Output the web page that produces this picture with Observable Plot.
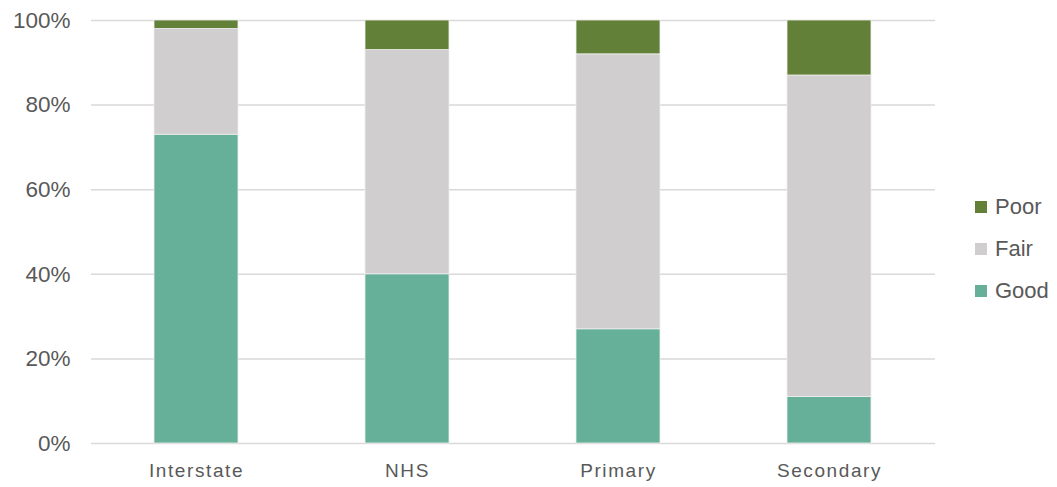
<!DOCTYPE html>
<html><head><meta charset="utf-8">
<script src="https://cdn.jsdelivr.net/npm/d3@7"></script>
<script src="https://cdn.jsdelivr.net/npm/@observablehq/plot@0.6"></script>
<style>
body{margin:0;background:#fff;}
#wrap{position:relative;width:1057px;height:487px;}
.leg{position:absolute;left:975px;font:22px "Liberation Sans",Arial,sans-serif;color:#595959;display:flex;align-items:center;height:24px;}
.leg span{display:inline-block;width:12px;height:12px;margin-right:8px;}
#wrap svg g[aria-label="x-axis tick label"] text{letter-spacing:1.6px;}
</style></head>
<body><div id="wrap"></div>
<script>
const categories = ["Interstate","NHS","Primary","Secondary"];
const series = ["Good","Fair","Poor"];
const good = [73,40,27,11];
const fair = [25,53,65,76];
const poor = [2,7,8,13];
const colors = ["#66B09A","#D0CECF","#638038"];
const yTicks = [0,20,40,60,80,100];

const data = [];
const vals = {Good:good, Fair:fair, Poor:poor};
series.forEach(s => categories.forEach((c,i) => data.push({cat:c, series:s, value:vals[s][i]})));

const chart = Plot.plot({
  width:1057, height:487,
  marginLeft:91, marginRight:122, marginTop:20, marginBottom:44,
  style:{fontFamily:"'Liberation Sans',Arial,sans-serif", color:"#595959", background:"#fff", overflow:"visible"},
  x:{domain:categories, paddingInner:0.6, paddingOuter:0.3, label:null},
  y:{domain:[0,100], ticks:yTicks, label:null},
  color:{domain:series, range:colors},
  marks:[
    Plot.gridY(yTicks,{stroke:"#d9d9d9", strokeOpacity:1, strokeWidth:1.5}),
    Plot.barY(data,{x:"cat", y:"value", fill:"series", order:series, stroke:"#eeeeee", strokeWidth:0.8}),
    Plot.axisY(yTicks,{tickSize:0, tickPadding:0, tickFormat:d=>d+"%", fontSize:22.5, dx:-21, fill:"#595959"}),
    Plot.axisX({tickSize:0, tickPadding:0, fontSize:19, dy:20, fill:"#595959"})
  ]
});
const wrap = document.getElementById("wrap");
wrap.appendChild(chart);
const legendY = {Poor:207, Fair:249, Good:291};
series.slice().reverse().forEach(s=>{
  const d=document.createElement("div");
  d.className="leg";
  d.style.top=(legendY[s]-12)+"px";
  d.innerHTML=`<span style="background:${colors[series.indexOf(s)]}"></span>${s}`;
  wrap.appendChild(d);
});
</script></body></html>
